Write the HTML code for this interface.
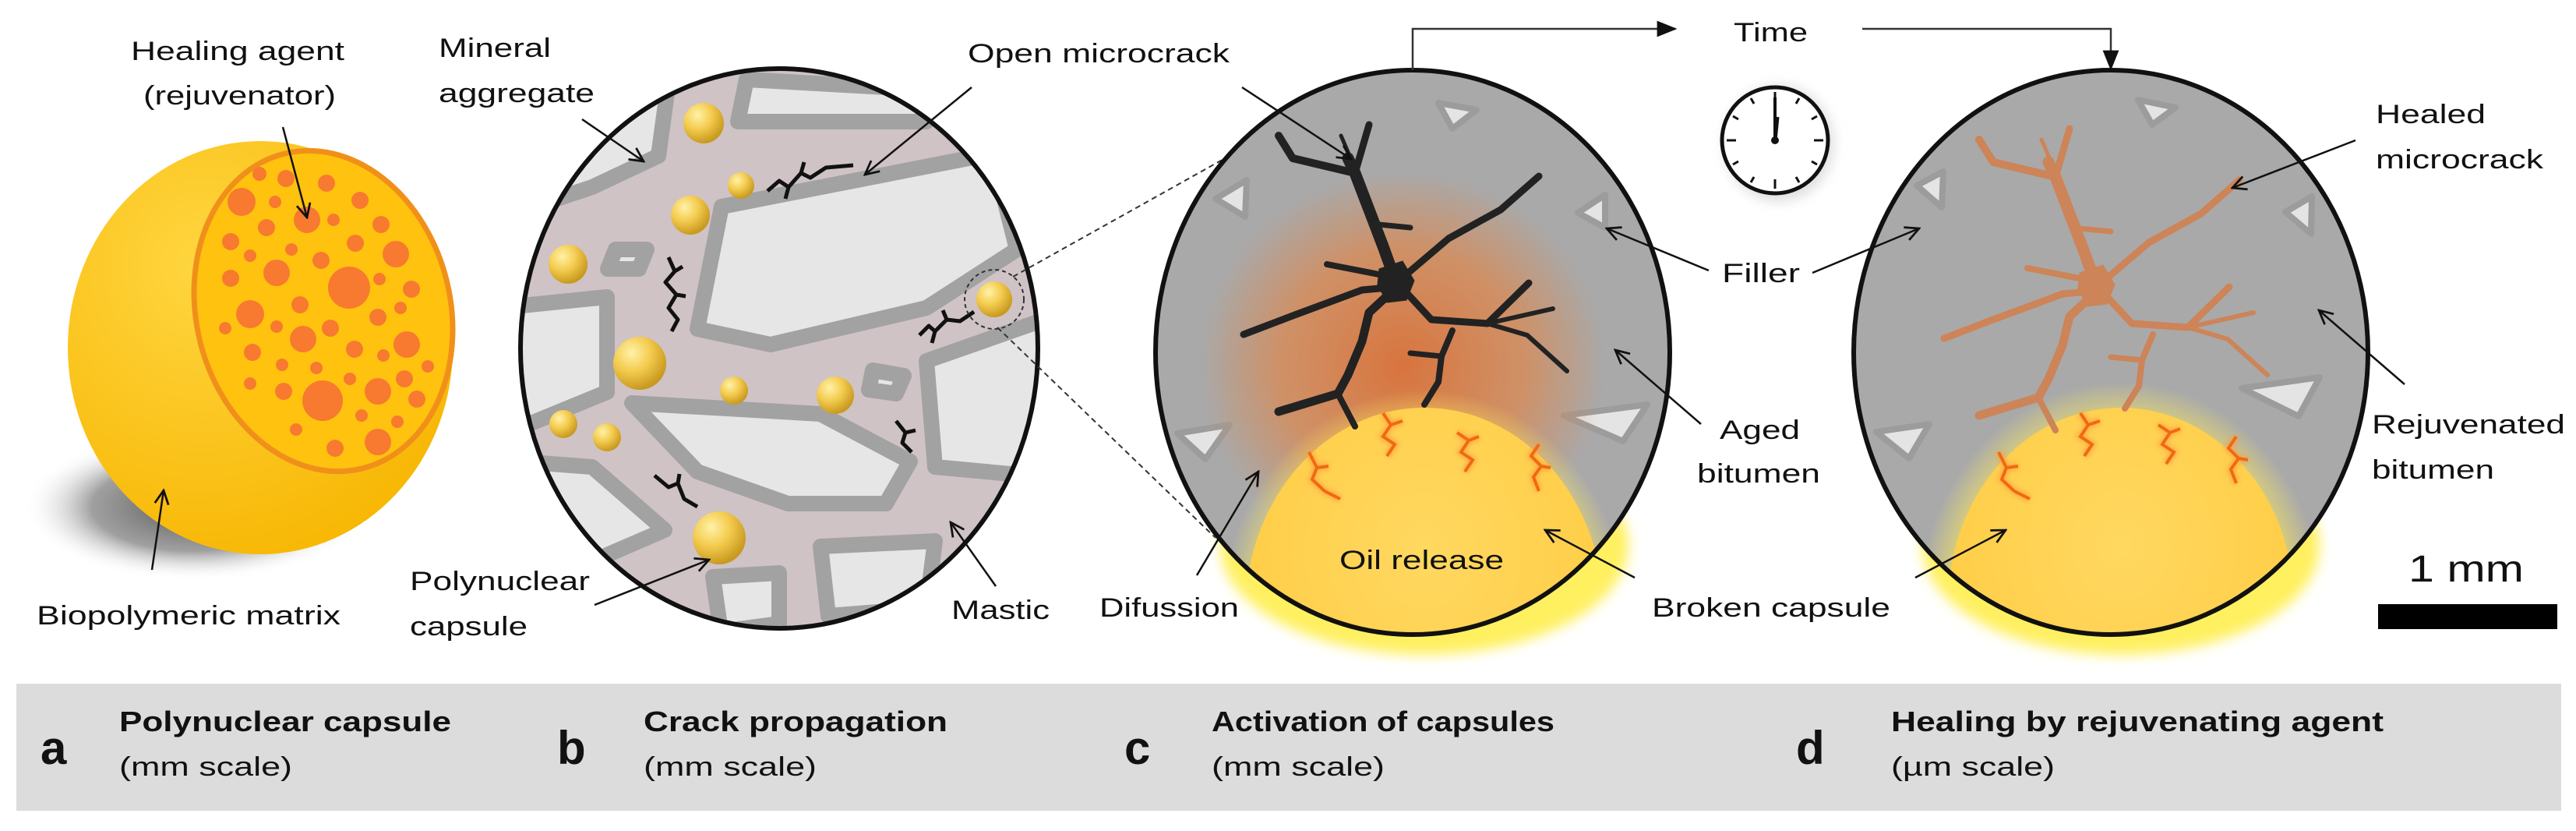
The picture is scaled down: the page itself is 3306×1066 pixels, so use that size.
<!DOCTYPE html>
<html><head><meta charset="utf-8"><style>
html,body{margin:0;padding:0;background:#fff;}
svg{display:block;}
text{font-family:"Liberation Sans",Arial,sans-serif;fill:#111;}
</style></head><body>
<svg width="3306" height="1066" viewBox="0 0 3306 1066" xmlns="http://www.w3.org/2000/svg">
<defs>
<marker id="ar" viewBox="0 0 20 20" refX="18" refY="10" markerWidth="22" markerHeight="22" markerUnits="userSpaceOnUse" orient="auto"><path d="M2,2 L18,10 L2,18" fill="none" stroke="#111" stroke-width="2.5"/></marker>
<marker id="tri" viewBox="0 0 20 20" refX="18" refY="10" markerWidth="26" markerHeight="26" markerUnits="userSpaceOnUse" orient="auto"><path d="M0,2 L20,10 L0,18 Z" fill="#111"/></marker>
<radialGradient id="sph" cx="0.35" cy="0.3" r="0.8"><stop offset="0" stop-color="#ffd640"/><stop offset="1" stop-color="#f7b500"/></radialGradient>
<radialGradient id="ball" cx="0.35" cy="0.3" r="0.7"><stop offset="0" stop-color="#fff2a8"/><stop offset="0.5" stop-color="#f4cc50"/><stop offset="1" stop-color="#c99a20"/></radialGradient>
<radialGradient id="shadow" cx="0.5" cy="0.5" r="0.5"><stop offset="0" stop-color="#555"/><stop offset="0.6" stop-color="#888" stop-opacity="0.8"/><stop offset="1" stop-color="#fff" stop-opacity="0"/></radialGradient>
<radialGradient id="glow" cx="0.5" cy="0.5" r="0.5"><stop offset="0" stop-color="#e06a2a" stop-opacity="0.85"/><stop offset="0.6" stop-color="#e8803a" stop-opacity="0.6"/><stop offset="1" stop-color="#e8803a" stop-opacity="0"/></radialGradient>
<radialGradient id="yglow" cx="0.5" cy="0.5" r="0.5"><stop offset="0.75" stop-color="#ffe84a" stop-opacity="0.9"/><stop offset="1" stop-color="#ffee60" stop-opacity="0"/></radialGradient>
<radialGradient id="cap" cx="0.5" cy="0.35" r="0.6"><stop offset="0" stop-color="#ffd860"/><stop offset="1" stop-color="#ffcc44"/></radialGradient>
<clipPath id="cb"><ellipse cx="1000" cy="447" rx="332" ry="359"/></clipPath>
<clipPath id="cc"><ellipse cx="1813" cy="452" rx="330" ry="362"/></clipPath>
<clipPath id="cd"><ellipse cx="2709" cy="452" rx="330" ry="362"/></clipPath>
<filter id="blur" x="-20%" y="-20%" width="140%" height="140%"><feGaussianBlur stdDeviation="8"/></filter>
<filter id="sblur"><feGaussianBlur stdDeviation="3"/></filter>
<g id="crack">
<g fill="none" stroke-linecap="round" stroke-linejoin="round">
<path d="M1792,363 L1775,316 L1757,269 L1739,222 L1730,203" stroke-width="15"/>
<path d="M1739,222 L1659,203 L1641,174" stroke-width="10"/>
<path d="M1739,222 L1757,160" stroke-width="9"/>
<path d="M1745,230 L1721,174" stroke-width="5"/>
<path d="M1770,288 L1810,292" stroke-width="7"/>
<path d="M1792,363 L1859,306 L1926,269 L1975,226" stroke-width="9"/>
<path d="M1785,355 L1703,339" stroke-width="8"/>
<path d="M1792,368 L1748,372 L1659,405 L1596,429" stroke-width="9"/>
<path d="M1785,375 L1757,401 L1748,438 L1730,481 L1717,505 L1641,528" stroke-width="11"/>
<path d="M1717,505 L1739,547" stroke-width="8"/>
<path d="M1800,370 L1837,410 L1909,415 L1962,363" stroke-width="9"/>
<path d="M1909,415 L1993,396" stroke-width="6"/>
<path d="M1909,415 L1960,430 L2011,476" stroke-width="6"/>
<path d="M1864,424 L1850,457 L1846,490 L1828,519" stroke-width="8"/>
<path d="M1850,457 L1810,453" stroke-width="7"/>
</g>
<path d="M1770,345 L1800,335 L1815,360 L1805,385 L1780,388 L1768,365 Z"/>
</g>
</defs>

<!-- ===== a: capsule ===== -->
<ellipse cx="250" cy="650" rx="220" ry="95" fill="url(#shadow)"/>
<ellipse cx="334" cy="446" rx="247" ry="265" fill="url(#sph)"/>
<g transform="rotate(-14 415 399)">
<ellipse cx="415" cy="399" rx="163" ry="208" fill="#ffc20e" stroke="#f0901a" stroke-width="7"/>
</g>
<g fill="#f77a30">
<circle cx="310" cy="259" r="18"/><circle cx="333" cy="223" r="9"/><circle cx="367" cy="229" r="11"/><circle cx="419" cy="235" r="11"/><circle cx="353" cy="259" r="8"/><circle cx="394" cy="282" r="17"/><circle cx="428" cy="282" r="8"/><circle cx="462" cy="257" r="11"/><circle cx="489" cy="288" r="11"/><circle cx="342" cy="292" r="11"/><circle cx="296" cy="310" r="11"/><circle cx="374" cy="320" r="8"/><circle cx="412" cy="334" r="11"/><circle cx="456" cy="312" r="11"/><circle cx="508" cy="326" r="17"/><circle cx="321" cy="328" r="8"/><circle cx="355" cy="350" r="17"/><circle cx="296" cy="357" r="11"/><circle cx="448" cy="369" r="27"/><circle cx="487" cy="358" r="8"/><circle cx="528" cy="371" r="11"/><circle cx="385" cy="391" r="11"/><circle cx="321" cy="403" r="18"/><circle cx="485" cy="407" r="11"/><circle cx="514" cy="395" r="8"/><circle cx="289" cy="421" r="8"/><circle cx="355" cy="419" r="8"/><circle cx="424" cy="421" r="11"/><circle cx="389" cy="435" r="17"/><circle cx="522" cy="442" r="17"/><circle cx="324" cy="452" r="11"/><circle cx="455" cy="448" r="11"/><circle cx="492" cy="456" r="8"/><circle cx="362" cy="468" r="8"/><circle cx="406" cy="472" r="8"/><circle cx="549" cy="470" r="8"/><circle cx="321" cy="492" r="8"/><circle cx="449" cy="486" r="8"/><circle cx="519" cy="486" r="11"/><circle cx="364" cy="502" r="11"/><circle cx="414" cy="514" r="26"/><circle cx="485" cy="502" r="17"/><circle cx="535" cy="512" r="11"/><circle cx="464" cy="533" r="8"/><circle cx="510" cy="541" r="8"/><circle cx="380" cy="551" r="8"/><circle cx="485" cy="567" r="17"/><circle cx="430" cy="575" r="11"/>
</g>
<line x1="363" y1="163" x2="394" y2="279" stroke="#111" stroke-width="2.5" marker-end="url(#ar)"/>
<line x1="195" y1="731" x2="210" y2="629" stroke="#111" stroke-width="2.5" marker-end="url(#ar)"/>
<text x="168" y="77" font-size="34" textLength="274" lengthAdjust="spacingAndGlyphs">Healing agent</text>
<text x="184" y="134" font-size="34" textLength="247" lengthAdjust="spacingAndGlyphs">(rejuvenator)</text>
<text x="47" y="801" font-size="34" textLength="390" lengthAdjust="spacingAndGlyphs">Biopolymeric matrix</text>

<!-- ===== b ===== -->
<ellipse cx="1000" cy="447" rx="332" ry="359" fill="#cfc3c6"/>
<g clip-path="url(#cb)" fill="#e6e6e6" stroke="#a2a2a2" stroke-width="20" stroke-linejoin="round">
<polygon points="640,90 860,90 845,200 760,240 640,280"/>
<polygon points="958,102 1210,116 1189,156 947,156"/>
<polygon points="1240,150 1340,140 1340,260 1260,290"/>
<polygon points="926,265 1274,197 1305,320 1189,395 989,442 895,422"/>
<polygon points="640,395 779,381 779,503 640,560"/>
<polygon points="790,320 830,320 820,345 780,345"/>
<polygon points="811,517 1053,531 1168,592 1137,646 1011,646 895,605"/>
<polygon points="1189,463 1340,410 1340,612 1200,599"/>
<polygon points="1120,475 1160,482 1150,505 1115,500"/>
<polygon points="640,590 760,599 853,680 737,730 640,760"/>
<polygon points="1053,701 1200,694 1189,780 1063,790"/>
<polygon points="915,740 1000,735 1000,800 925,810"/>
</g>
<g>
<circle cx="903" cy="158" r="26" fill="url(#ball)"/><circle cx="951" cy="238" r="17" fill="url(#ball)"/><circle cx="886" cy="276" r="25" fill="url(#ball)"/><circle cx="729" cy="339" r="25" fill="url(#ball)"/><circle cx="821" cy="466" r="34" fill="url(#ball)"/><circle cx="942" cy="501" r="18" fill="url(#ball)"/><circle cx="1072" cy="507" r="24" fill="url(#ball)"/><circle cx="723" cy="544" r="18" fill="url(#ball)"/><circle cx="779" cy="561" r="18" fill="url(#ball)"/><circle cx="923" cy="690" r="34" fill="url(#ball)"/><circle cx="1276" cy="384" r="23" fill="url(#ball)"/>
</g>
<g fill="none" stroke="#111" stroke-width="5" stroke-linejoin="round">
<path d="M985,245 L1000,232 L1012,240 L1028,222 L1040,228 L1060,215 L1095,212 M1012,240 L1008,255 M1028,222 L1032,208"/>
<path d="M858,330 L866,348 L854,362 L868,378 L858,395 L870,410 L862,425 M866,348 L876,342 M868,378 L880,380"/>
<path d="M1180,430 L1192,418 L1200,425 L1215,410 L1232,412 L1250,400 M1200,425 L1196,440 M1215,410 L1210,398"/>
<path d="M1150,540 L1162,555 L1158,568 L1170,580 M1162,555 L1175,552"/>
<path d="M840,610 L858,625 L870,620 L878,640 L895,650 M870,620 L872,608"/>
</g>
<ellipse cx="1000" cy="447" rx="332" ry="359" fill="none" stroke="#111" stroke-width="6"/>
<circle cx="1276" cy="384" r="38" fill="none" stroke="#333" stroke-width="2" stroke-dasharray="5,4"/>
<line x1="1300" y1="355" x2="1660" y2="154" stroke="#333" stroke-width="2" stroke-dasharray="7,5"/>
<line x1="1280" y1="420" x2="1560" y2="690" stroke="#333" stroke-width="2" stroke-dasharray="7,5"/>
<line x1="747" y1="153" x2="826" y2="207" stroke="#111" stroke-width="2.5" marker-end="url(#ar)"/>
<line x1="1247" y1="112" x2="1110" y2="224" stroke="#111" stroke-width="2.5" marker-end="url(#ar)"/>
<line x1="763" y1="776" x2="910" y2="718" stroke="#111" stroke-width="2.5" marker-end="url(#ar)"/>
<line x1="1278" y1="752" x2="1220" y2="670" stroke="#111" stroke-width="2.5" marker-end="url(#ar)"/>
<text x="563" y="73" font-size="34" textLength="144" lengthAdjust="spacingAndGlyphs">Mineral</text>
<text x="563" y="131" font-size="34" textLength="200" lengthAdjust="spacingAndGlyphs">aggregate</text>
<text x="1242" y="80" font-size="34" textLength="336" lengthAdjust="spacingAndGlyphs">Open microcrack</text>
<text x="526" y="757" font-size="34" textLength="231" lengthAdjust="spacingAndGlyphs">Polynuclear</text>
<text x="526" y="815" font-size="34" textLength="151" lengthAdjust="spacingAndGlyphs">capsule</text>
<text x="1221" y="794" font-size="34" textLength="126" lengthAdjust="spacingAndGlyphs">Mastic</text>

<!-- ===== c ===== -->
<ellipse cx="1828" cy="700" rx="262" ry="140" fill="#fff060" filter="url(#blur)"/>
<ellipse cx="1813" cy="452" rx="330" ry="362" fill="#a9a9a9"/>
<g clip-path="url(#cc)">
<g fill="#e4e4e4" stroke="#9c9c9c" stroke-width="8" stroke-linejoin="round">
<polygon points="1846,132 1895,141 1864,165"/><polygon points="1560,255 1600,231 1598,278"/><polygon points="2025,273 2060,250 2060,292"/><polygon points="2007,533 2114,519 2083,566"/><polygon points="1511,556 1578,545 1547,589"/>
</g>
<ellipse cx="1800" cy="470" rx="260" ry="250" fill="url(#glow)"/>
<ellipse cx="1828" cy="790" rx="260" ry="290" fill="url(#yglow)"/>
<ellipse cx="1828" cy="785" rx="230" ry="262" fill="url(#cap)"/>
</g>
<g fill="none" stroke="#f06a10" stroke-width="4">
<g filter="url(#sblur)" stroke="#ff9a40" stroke-width="10" opacity="0.6">
<path d="M1680,580 L1690,600 L1684,615 L1700,630 M1690,600 L1705,598 M1700,630 L1720,640"/>
<path d="M1775,530 L1785,545 L1775,560 L1790,570 L1780,585 M1785,545 L1800,540"/>
<path d="M1870,555 L1885,565 L1875,580 L1890,590 L1880,605 M1885,565 L1898,560"/>
<path d="M1975,570 L1965,585 L1978,598 L1968,612 L1975,630 M1978,598 L1990,600"/>
</g>
<path d="M1680,580 L1690,600 L1684,615 L1700,630 M1690,600 L1705,598 M1700,630 L1720,640"/>
<path d="M1775,530 L1785,545 L1775,560 L1790,570 L1780,585 M1785,545 L1800,540"/>
<path d="M1870,555 L1885,565 L1875,580 L1890,590 L1880,605 M1885,565 L1898,560"/>
<path d="M1975,570 L1965,585 L1978,598 L1968,612 L1975,630 M1978,598 L1990,600"/>
</g>
<use href="#crack" fill="#222" stroke="#222"/>
<ellipse cx="1813" cy="452" rx="330" ry="362" fill="none" stroke="#111" stroke-width="6"/>
<line x1="1594" y1="112" x2="1734" y2="204" stroke="#111" stroke-width="2.5" marker-end="url(#ar)"/>
<line x1="1536" y1="738" x2="1615" y2="605" stroke="#111" stroke-width="2.5" marker-end="url(#ar)"/>
<line x1="2193" y1="347" x2="2062" y2="293" stroke="#111" stroke-width="2.5" marker-end="url(#ar)"/>
<line x1="2183" y1="544" x2="2073" y2="449" stroke="#111" stroke-width="2.5" marker-end="url(#ar)"/>
<line x1="2098" y1="741" x2="1983" y2="680" stroke="#111" stroke-width="2.5" marker-end="url(#ar)"/>
<text x="1411" y="791" font-size="34" textLength="179" lengthAdjust="spacingAndGlyphs">Difussion</text>
<text x="1719" y="730" font-size="34" textLength="211" lengthAdjust="spacingAndGlyphs">Oil release</text>
<text x="2210" y="362" font-size="34" textLength="100" lengthAdjust="spacingAndGlyphs">Filler</text>
<text x="2207" y="563" font-size="34" textLength="103" lengthAdjust="spacingAndGlyphs">Aged</text>
<text x="2178" y="619" font-size="34" textLength="158" lengthAdjust="spacingAndGlyphs">bitumen</text>
<text x="2120" y="791" font-size="34" textLength="306" lengthAdjust="spacingAndGlyphs">Broken capsule</text>

<!-- time arrows + clock -->
<polyline points="1813,90 1813,37 2150,37" fill="none" stroke="#333" stroke-width="2.5" marker-end="url(#tri)"/>
<polyline points="2390,37 2709,37 2709,88" fill="none" stroke="#333" stroke-width="2.5" marker-end="url(#tri)"/>
<text x="2225" y="53" font-size="34" textLength="95" lengthAdjust="spacingAndGlyphs">Time</text>
<ellipse cx="2283" cy="184" rx="70" ry="74" fill="#ddd" filter="url(#blur)"/>
<circle cx="2278" cy="180" r="68" fill="#fff" stroke="#111" stroke-width="5"/>
<g stroke="#111" stroke-width="3">
<line x1="2278" y1="118" x2="2278" y2="130"/><line x1="2278" y1="230" x2="2278" y2="242"/><line x1="2216" y1="180" x2="2228" y2="180"/><line x1="2328" y1="180" x2="2340" y2="180"/>
<line x1="2309" y1="126" x2="2305" y2="133"/><line x1="2332" y1="149" x2="2325" y2="153"/><line x1="2332" y1="211" x2="2325" y2="207"/><line x1="2309" y1="234" x2="2305" y2="227"/><line x1="2247" y1="234" x2="2251" y2="227"/><line x1="2224" y1="211" x2="2231" y2="207"/><line x1="2224" y1="149" x2="2231" y2="153"/><line x1="2247" y1="126" x2="2251" y2="133"/>
<line x1="2278" y1="180" x2="2278" y2="125" stroke-width="4"/><line x1="2278" y1="180" x2="2281" y2="150" stroke-width="5"/>
</g>
<circle cx="2278" cy="180" r="5" fill="#111"/>

<!-- ===== d ===== -->
<ellipse cx="2722" cy="700" rx="255" ry="140" fill="#fff060" filter="url(#blur)"/>
<ellipse cx="2709" cy="452" rx="330" ry="362" fill="#a9a9a9"/>
<g clip-path="url(#cd)">
<g fill="#e4e4e4" stroke="#9c9c9c" stroke-width="8" stroke-linejoin="round">
<polygon points="2744,128 2792,138 2762,160"/><polygon points="2460,238 2494,220 2492,266"/><polygon points="2933,272 2967,252 2966,300"/><polygon points="2877,498 2977,484 2950,534"/><polygon points="2408,554 2476,544 2450,588"/>
</g>
<ellipse cx="2722" cy="780" rx="260" ry="290" fill="url(#yglow)"/>
<ellipse cx="2722" cy="775" rx="222" ry="252" fill="url(#cap)"/>
</g>
<g fill="none" stroke="#f06a10" stroke-width="4">
<g filter="url(#sblur)" stroke="#ff9a40" stroke-width="10" opacity="0.6">
<path d="M2565,580 L2575,600 L2569,615 L2585,630 M2575,600 L2590,598 M2585,630 L2605,640"/>
<path d="M2670,530 L2680,545 L2670,560 L2685,570 L2675,585 M2680,545 L2695,540"/>
<path d="M2770,545 L2785,555 L2775,570 L2790,580 L2780,595 M2785,555 L2798,550"/>
<path d="M2870,560 L2860,575 L2873,588 L2863,602 L2870,620 M2873,588 L2885,590"/>
</g>
<path d="M2565,580 L2575,600 L2569,615 L2585,630 M2575,600 L2590,598 M2585,630 L2605,640"/>
<path d="M2670,530 L2680,545 L2670,560 L2685,570 L2675,585 M2680,545 L2695,540"/>
<path d="M2770,545 L2785,555 L2775,570 L2790,580 L2780,595 M2785,555 L2798,550"/>
<path d="M2870,560 L2860,575 L2873,588 L2863,602 L2870,620 M2873,588 L2885,590"/>
</g>
<use href="#crack" fill="#cd8458" stroke="#cd8458" transform="translate(899,5)"/>
<ellipse cx="2709" cy="452" rx="330" ry="362" fill="none" stroke="#111" stroke-width="6"/>
<line x1="2326" y1="350" x2="2463" y2="293" stroke="#111" stroke-width="2.5" marker-end="url(#ar)"/>
<line x1="2458" y1="741" x2="2574" y2="680" stroke="#111" stroke-width="2.5" marker-end="url(#ar)"/>
<line x1="3023" y1="180" x2="2865" y2="241" stroke="#111" stroke-width="2.5" marker-end="url(#ar)"/>
<line x1="3086" y1="493" x2="2976" y2="398" stroke="#111" stroke-width="2.5" marker-end="url(#ar)"/>
<text x="3049" y="158" font-size="34" textLength="141" lengthAdjust="spacingAndGlyphs">Healed</text>
<text x="3049" y="216" font-size="34" textLength="215" lengthAdjust="spacingAndGlyphs">microcrack</text>
<text x="3044" y="556" font-size="34" textLength="248" lengthAdjust="spacingAndGlyphs">Rejuvenated</text>
<text x="3044" y="614" font-size="34" textLength="157" lengthAdjust="spacingAndGlyphs">bitumen</text>

<!-- scale bar -->
<text x="3091" y="746" font-size="48" textLength="148" lengthAdjust="spacingAndGlyphs">1 mm</text>
<rect x="3052" y="775" width="230" height="32" fill="#000"/>

<!-- bottom bar -->
<rect x="21" y="877" width="3266" height="163" fill="#dcdcdc"/>
<g font-weight="bold">
<text x="52" y="980" font-size="60">a</text>
<text x="715" y="980" font-size="60">b</text>
<text x="1443" y="980" font-size="60">c</text>
<text x="2305" y="980" font-size="60">d</text>
<text x="153" y="938" font-size="36" textLength="426" lengthAdjust="spacingAndGlyphs">Polynuclear capsule</text>
<text x="826" y="938" font-size="36" textLength="390" lengthAdjust="spacingAndGlyphs">Crack propagation</text>
<text x="1555" y="938" font-size="36" textLength="440" lengthAdjust="spacingAndGlyphs">Activation of capsules</text>
<text x="2427" y="938" font-size="36" textLength="632" lengthAdjust="spacingAndGlyphs">Healing by rejuvenating agent</text>
</g>
<text x="153" y="995" font-size="34" textLength="222" lengthAdjust="spacingAndGlyphs">(mm scale)</text>
<text x="826" y="995" font-size="34" textLength="222" lengthAdjust="spacingAndGlyphs">(mm scale)</text>
<text x="1555" y="995" font-size="34" textLength="222" lengthAdjust="spacingAndGlyphs">(mm scale)</text>
<text x="2427" y="995" font-size="34" textLength="210" lengthAdjust="spacingAndGlyphs">(µm scale)</text>
</svg>
</body></html>
